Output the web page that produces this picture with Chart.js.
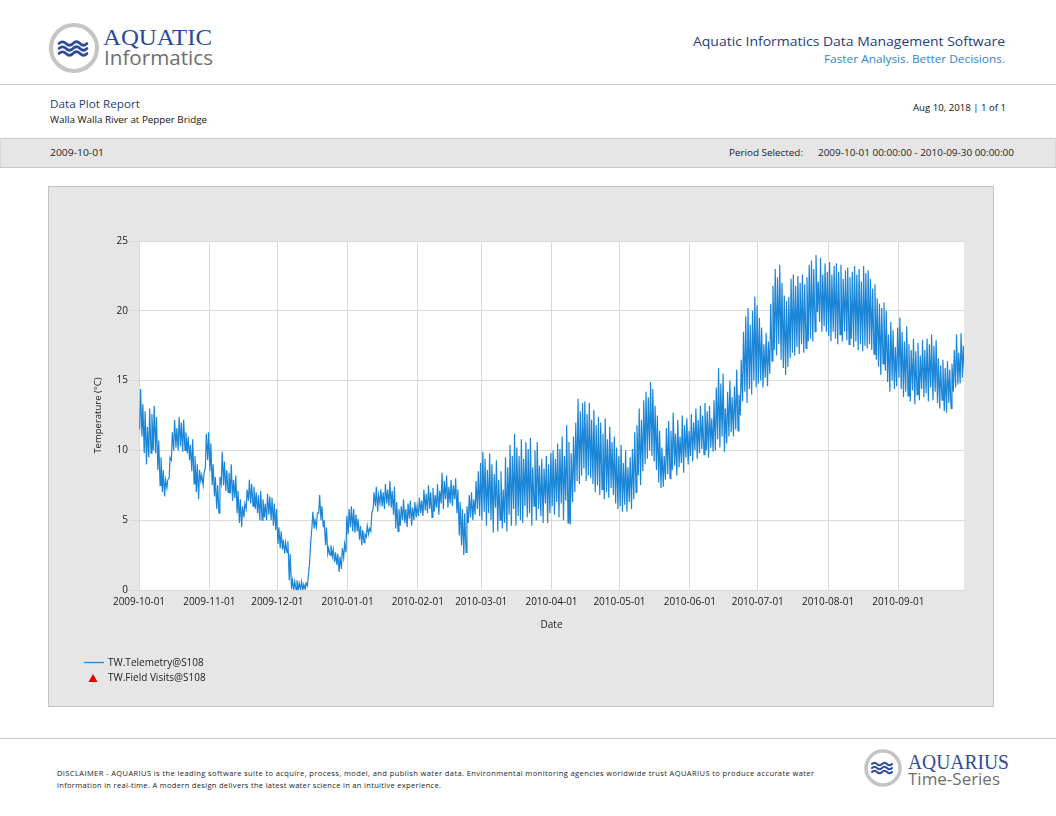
<!DOCTYPE html>
<html><head><meta charset="utf-8">
<script src="https://cdn.jsdelivr.net/npm/chart.js@4.4.1/dist/chart.umd.min.js"></script>
<style>
body{margin:0;width:1056px;height:816px;position:relative;background:#fff;font-family:'Open Sans',sans-serif;overflow:hidden}
#page{position:absolute;left:0;top:0}
#wrap{position:absolute;left:49px;top:187px;width:944px;height:519px}
#legend{position:absolute;left:84px;top:655px;font-family:'Open Sans',sans-serif;font-size:10px;color:#222}
.li{position:relative;height:15px;line-height:15px;white-space:nowrap}
.li span{position:absolute;left:24px;top:0}
</style></head>
<body>
<svg id="page" width="1056" height="816" xmlns="http://www.w3.org/2000/svg">
  <!-- header logo -->
  <circle cx="74" cy="48" r="23" fill="#fff" stroke="#c4c4c4" stroke-width="4"/>
  <g fill="none" stroke="#2d4b9b" stroke-width="2.6" stroke-linecap="round">
    <path d="M59,43.5 q3.5,-3.5 7,0 t7,0 t7,0 t7,0"/>
    <path d="M59,48.5 q3.5,-3.5 7,0 t7,0 t7,0 t7,0"/>
    <path d="M59,53.5 q3.5,-3.5 7,0 t7,0 t7,0 t7,0"/>
  </g>
  <text x="103" y="45" font-family="Liberation Serif" font-size="24" fill="#2d4b9b" textLength="109" lengthAdjust="spacingAndGlyphs">AQUATIC</text>
  <text x="104" y="65" font-family="Open Sans" font-size="20" fill="#6e6e6e" textLength="109" lengthAdjust="spacingAndGlyphs">Informatics</text>
  <text x="693" y="46" font-family="Open Sans" font-size="13.5" fill="#1f3d7a" textLength="312" lengthAdjust="spacingAndGlyphs">Aquatic Informatics Data Management Software</text>
  <text x="824" y="63" font-family="Open Sans" font-size="11" fill="#2f86c6" textLength="181" lengthAdjust="spacingAndGlyphs">Faster Analysis. Better Decisions.</text>
  <line x1="0" y1="84.5" x2="1056" y2="84.5" stroke="#c8c8c8" stroke-width="1"/>
  <!-- report info -->
  <text x="50" y="108" font-family="Open Sans" font-size="11.5" fill="#1f3d7a" textLength="90" lengthAdjust="spacingAndGlyphs">Data Plot Report</text>
  <text x="50" y="122.5" font-family="Open Sans" font-size="9.5" fill="#111" textLength="157" lengthAdjust="spacingAndGlyphs">Walla Walla River at Pepper Bridge</text>
  <text x="913" y="110.5" font-family="Open Sans" font-size="9.5" fill="#111" textLength="93" lengthAdjust="spacingAndGlyphs">Aug 10, 2018 | 1 of 1</text>
  <rect x="0" y="138.5" width="1056" height="29" fill="#e6e6e6" stroke="#c8c8c8" stroke-width="1"/>
  <text x="50" y="155.5" font-family="Open Sans" font-size="9.5" fill="#222" textLength="54" lengthAdjust="spacingAndGlyphs">2009-10-01</text>
  <text x="729" y="155.5" font-family="Open Sans" font-size="9.5" fill="#222" textLength="74" lengthAdjust="spacingAndGlyphs">Period Selected:</text>
  <text x="818" y="155.5" font-family="Open Sans" font-size="9.5" fill="#222" textLength="196" lengthAdjust="spacingAndGlyphs">2009-10-01 00:00:00 - 2010-09-30 00:00:00</text>
  <!-- chart panel -->
  <rect x="48.5" y="186.5" width="945" height="520" fill="#e6e6e6" stroke="#c3c3c3" stroke-width="1"/>
  <!-- footer -->
  <line x1="0" y1="738.5" x2="1056" y2="738.5" stroke="#c8c8c8" stroke-width="1"/>
  <text x="57" y="776" font-family="Open Sans" font-size="7.5" fill="#222" textLength="757" lengthAdjust="spacing">DISCLAIMER - AQUARIUS is the leading software suite to acquire, process, model, and publish water data. Environmental monitoring agencies worldwide trust AQUARIUS to produce accurate water</text>
  <text x="57" y="788" font-family="Open Sans" font-size="7.5" fill="#222" textLength="384" lengthAdjust="spacing">information in real-time. A modern design delivers the latest water science in an intuitive experience.</text>
  <circle cx="883" cy="768" r="17" fill="#fff" stroke="#c4c4c4" stroke-width="3.5"/>
  <g fill="none" stroke="#2d4b9b" stroke-width="2" stroke-linecap="round">
    <path d="M872,764 q2.5,-2.5 5,0 t5,0 t5,0 t5,0"/>
    <path d="M872,768 q2.5,-2.5 5,0 t5,0 t5,0 t5,0"/>
    <path d="M872,772 q2.5,-2.5 5,0 t5,0 t5,0 t5,0"/>
  </g>
  <text x="908" y="769" font-family="Liberation Serif" font-size="21" fill="#2d4b9b" textLength="101" lengthAdjust="spacingAndGlyphs">AQUARIUS</text>
  <text x="908" y="785" font-family="Open Sans" font-size="15.5" fill="#6e6e6e" textLength="92" lengthAdjust="spacingAndGlyphs">Time-Series</text>
</svg>
<div id="wrap"><canvas id="c" width="944" height="519"></canvas></div>
<div id="legend"></div>
<script>
// ---- data (daily max / min water temperature, °C) ----
const startDate = '2009-10-01';
const endDate = '2010-09-30';
const seriesNames = ['TW.Telemetry@S108', 'TW.Field Visits@S108'];
const xTickLabels = ['2009-10-01','2009-11-01','2009-12-01','2010-01-01','2010-02-01','2010-03-01','2010-04-01','2010-05-01','2010-06-01','2010-07-01','2010-08-01','2010-09-01'];
const yTicks = [0, 5, 10, 15, 20, 25];
const dailyMax = [
  /* Oct */ 14.4,13.3,12.8,11.7,13.0,12.6,13.2,12.4,10.7,9.5,8.6,7.9,7.9,9.5,11.3,12.2,11.6,12.4,12.0,12.2,11.3,11.0,10.4,10.8,9.6,9.0,8.6,8.2,8.4,11.2,11.3,
  /* Nov */ 10.5,9.0,8.1,7.5,8.1,9.9,9.2,8.6,8.4,9.0,7.9,8.2,7.1,6.5,6.0,6.2,7.2,7.9,7.6,7.4,7.0,6.8,7.1,6.5,6.2,6.9,6.7,6.6,6.2,5.8,
  /* Dec */ 4.5,4.2,3.6,3.4,3.5,2.6,0.7,0.6,0.7,0.5,0.6,0.4,0.5,1.0,3.3,5.6,5.0,5.5,6.8,6.0,5.0,4.5,3.0,3.2,2.9,2.7,2.6,2.4,3.0,3.3,5.3,
  /* Jan */ 5.8,6.0,5.8,5.4,5.1,4.6,4.3,4.0,4.6,4.4,5.5,7.0,7.4,6.8,7.2,7.0,7.6,7.2,7.8,7.1,7.4,6.3,5.8,6.0,6.5,5.8,6.2,6.4,5.9,6.3,6.0,
  /* Feb */ 6.6,6.4,7.2,6.9,7.5,7.0,7.3,6.8,7.6,7.1,8.4,7.8,8.2,7.4,7.9,7.5,8.0,7.2,6.3,5.8,5.5,6.0,6.8,7.0,6.5,7.8,8.5,9.1,
  /* Mar */ 9.9,9.4,8.6,9.8,9.0,8.3,9.3,7.9,8.5,7.2,9.5,8.8,10.4,9.6,11.2,10.2,9.6,10.8,9.4,10.6,10.1,10.9,8.8,10.0,10.6,8.9,9.4,8.7,9.6,9.0,9.8,
  /* Apr */ 10.0,9.4,10.5,10.1,11.0,9.6,11.8,10.6,9.8,11.0,12.0,13.7,12.8,13.4,13.5,12.6,13.4,12.2,12.9,11.8,12.4,12.0,11.2,12.3,10.8,11.7,10.6,11.0,10.2,9.6,
  /* May */ 10.4,9.1,10.0,8.8,9.5,10.1,11.3,11.8,13.0,12.2,13.6,14.2,13.8,14.9,14.4,13.2,12.5,11.4,10.2,9.6,11.6,12.1,11.4,12.7,11.2,12.2,11.0,12.5,11.8,12.3,11.4,
  /* Jun */ 12.6,12.0,13.0,12.2,13.2,12.5,13.4,12.8,13.2,12.3,13.6,14.5,15.9,14.8,15.5,13.0,14.2,15.0,13.8,14.6,15.8,14.0,16.5,18.5,19.6,20.2,19.0,20.0,21.0,20.4,
  /* Jul */ 19.5,18.8,17.6,18.4,17.8,20.5,21.8,23.0,22.4,23.3,22.0,21.1,20.7,21.0,22.3,22.6,21.8,22.5,22.0,22.6,21.9,22.4,23.3,23.6,23.0,24.0,22.1,23.8,22.6,23.4,22.8,
  /* Aug */ 23.5,22.6,23.2,23.4,22.8,23.3,22.3,22.9,23.1,22.4,22.8,23.2,22.6,23.0,22.1,23.2,22.7,22.9,22.3,21.6,21.9,20.9,20.5,20.2,20.6,20.0,18.3,19.2,18.6,17.4,18.8,
  /* Sep */ 19.5,18.5,17.8,18.9,17.6,17.2,18.0,17.1,17.7,16.8,17.9,17.2,18.0,17.6,18.3,17.5,17.9,16.6,16.1,16.5,15.9,16.4,15.8,16.2,17.2,18.3,17.0,18.4,17.5,17.3
];
const dailyMin = [
  /* Oct */ 11.5,11.0,9.8,9.0,9.5,9.8,10.0,9.8,8.6,7.5,7.0,6.7,7.3,8.0,9.3,10.0,10.2,10.0,10.3,9.9,10.0,9.8,9.3,8.5,7.6,7.0,6.5,7.8,7.5,8.8,9.3,
  /* Nov */ 8.5,7.5,6.7,5.8,5.5,7.6,7.5,7.1,7.0,6.9,6.4,6.6,5.5,4.8,4.5,5.2,5.8,6.4,6.2,6.0,5.8,5.5,5.0,5.0,5.2,5.0,5.4,5.0,4.6,4.3,
  /* Dec */ 3.3,3.0,2.9,2.6,2.7,0.7,0.05,0.0,0.05,0.0,0.05,0.0,0.05,0.3,2.0,4.5,4.4,4.5,5.5,5.0,4.5,3.2,2.6,2.5,2.4,2.0,1.8,1.3,1.5,2.3,2.7,
  /* Jan */ 4.0,4.5,4.2,4.1,4.2,3.6,3.2,3.4,3.8,4.0,4.2,5.8,6.0,5.6,6.2,6.0,5.8,6.2,6.0,5.9,5.4,4.4,4.2,4.6,5.0,4.8,4.5,5.1,4.6,5.0,5.2,
  /* Feb */ 5.3,5.5,5.3,5.7,5.5,5.8,5.2,5.6,5.9,5.4,6.2,5.8,6.5,5.9,6.2,6.0,6.5,5.5,3.9,3.2,2.5,2.7,4.8,5.2,5.0,5.4,5.8,5.3,
  /* Mar */ 5.0,5.6,4.6,5.5,5.0,4.1,5.9,4.2,5.0,4.4,4.8,4.2,5.4,4.6,5.8,4.6,5.3,5.0,4.8,6.0,5.2,5.5,4.6,6.0,5.0,5.8,5.3,4.8,6.2,4.8,5.5,
  /* Apr */ 6.0,5.4,6.3,5.2,6.2,5.0,6.4,4.8,4.7,6.3,7.0,7.8,7.6,8.2,8.7,7.8,8.2,8.0,7.6,7.0,7.5,6.8,7.2,6.5,7.0,6.6,7.3,6.8,6.2,5.8,
  /* May */ 6.0,5.6,6.1,5.6,6.3,5.8,6.5,7.0,8.2,7.5,8.5,9.0,9.4,10.0,9.6,9.2,8.6,7.7,7.3,7.4,7.9,8.3,8.0,8.6,8.9,8.2,8.8,9.1,8.4,9.5,9.0,
  /* Jun */ 9.6,9.2,10.0,9.4,9.8,10.1,9.7,10.0,9.5,10.2,9.9,10.0,10.8,10.2,11.0,9.9,10.5,11.0,11.3,11.0,11.5,11.4,12.5,13.5,14.2,13.4,14.4,14.0,15.0,14.5,
  /* Jul */ 14.8,15.0,14.5,15.2,14.6,15.5,16.4,17.2,16.8,17.6,16.5,15.9,15.4,16.0,16.6,17.0,16.8,17.4,16.9,17.6,17.0,17.3,17.8,18.0,17.8,18.5,19.9,19.2,18.5,18.9,18.5,
  /* Aug */ 18.2,17.8,18.5,18.0,17.6,18.3,17.8,18.5,17.9,17.6,18.0,17.4,17.8,17.2,17.6,17.1,17.5,17.3,17.6,17.2,16.9,16.5,16.0,15.4,16.2,15.7,14.9,14.2,15.0,14.4,14.6,
  /* Sep */ 15.2,14.4,13.8,14.2,13.9,13.5,14.3,13.3,14.0,13.6,14.4,13.8,14.1,13.5,14.5,13.6,14.2,13.4,13.0,13.6,12.8,12.7,13.4,13.0,14.2,14.5,14.7,14.8,15.2,15.4
];
const fieldVisits = []; // no field visit readings shown in the period

// ---- build chart ----
const DAY = 86400000;
const t0 = Date.parse(startDate + 'T00:00:00Z');
const tEnd = Date.parse(endDate + 'T00:00:00Z');
const telemetry = [];
for (let i = 0; i < dailyMax.length; i++) {
  const day = t0 + i * DAY;
  telemetry.push({x: day + 0.3 * DAY, y: dailyMin[i]});
  telemetry.push({x: day + 0.7 * DAY, y: dailyMax[i]});
}
const tickFont = {family: 'Open Sans', size: 10};
const gridColor = '#d9d9d9';
const bgPlugin = {id: 'plotBg', beforeDraw(c) {
  const a = c.chartArea, g = c.ctx;
  g.save(); g.fillStyle = '#ffffff'; g.fillRect(a.left, a.top, a.right - a.left, a.bottom - a.top); g.restore();
}};
const chart = new Chart(document.getElementById('c'), {
  type: 'line',
  data: {datasets: [
    {label: seriesNames[0], data: telemetry, borderColor: '#1b86d7', backgroundColor: '#1b86d7', borderWidth: 1.2, pointRadius: 0, tension: 0, fill: false},
    {label: seriesNames[1], data: fieldVisits, type: 'scatter', pointStyle: 'triangle', pointRadius: 5, backgroundColor: '#e60000', borderColor: '#e60000', showLine: false}
  ]},
  options: {
    responsive: false, animation: false,
    layout: {padding: {left: 40, right: 29, top: 54, bottom: 71}},
    plugins: {legend: {display: false}, tooltip: {enabled: false}},
    scales: {
      x: {type: 'linear', min: t0, max: tEnd,
        afterBuildTicks: s => { s.ticks = xTickLabels.map(l => ({value: Date.parse(l + 'T00:00:00Z')})); },
        afterFit: s => { s.height = 45; },
        ticks: {callback: (v, i) => xTickLabels[i], autoSkip: false, maxRotation: 0, minRotation: 0, padding: 6, color: '#1a1a1a', font: tickFont},
        grid: {color: gridColor, drawTicks: false},
        border: {color: gridColor},
        title: {display: true, text: 'Date', color: '#1a1a1a', font: tickFont, padding: {top: 4, bottom: 4}}
      },
      y: {min: 0, max: 25,
        afterBuildTicks: s => { s.ticks = yTicks.map(v => ({value: v})); },
        afterFit: s => { s.width = 50; },
        ticks: {padding: 2, color: '#1a1a1a', font: tickFont},
        grid: {color: gridColor, tickLength: 9, drawTicks: true},
        border: {color: gridColor},
        title: {display: true, text: 'Temperature (°C)', color: '#1a1a1a', font: {family: 'Open Sans', size: 9.5}, padding: {top: 4, bottom: 4}}
      }
    }
  },
  plugins: [bgPlugin]
});
// HTML legend built from the chart's datasets
const lg = document.getElementById('legend');
chart.data.datasets.forEach((ds, i) => {
  const row = document.createElement('div'); row.className = 'li';
  const mark = i === 0
    ? '<svg width="22" height="15" style="position:absolute;left:0;top:0"><line x1="0" y1="7.5" x2="20" y2="7.5" stroke="' + ds.borderColor + '" stroke-width="1.3"/></svg>'
    : '<svg width="22" height="15" style="position:absolute;left:0;top:0"><polygon points="4.5,12 13.5,12 9,4" fill="' + ds.backgroundColor + '"/></svg>';
  row.innerHTML = mark + '<span>' + ds.label + '</span>';
  lg.appendChild(row);
});
</script>
</body></html>
